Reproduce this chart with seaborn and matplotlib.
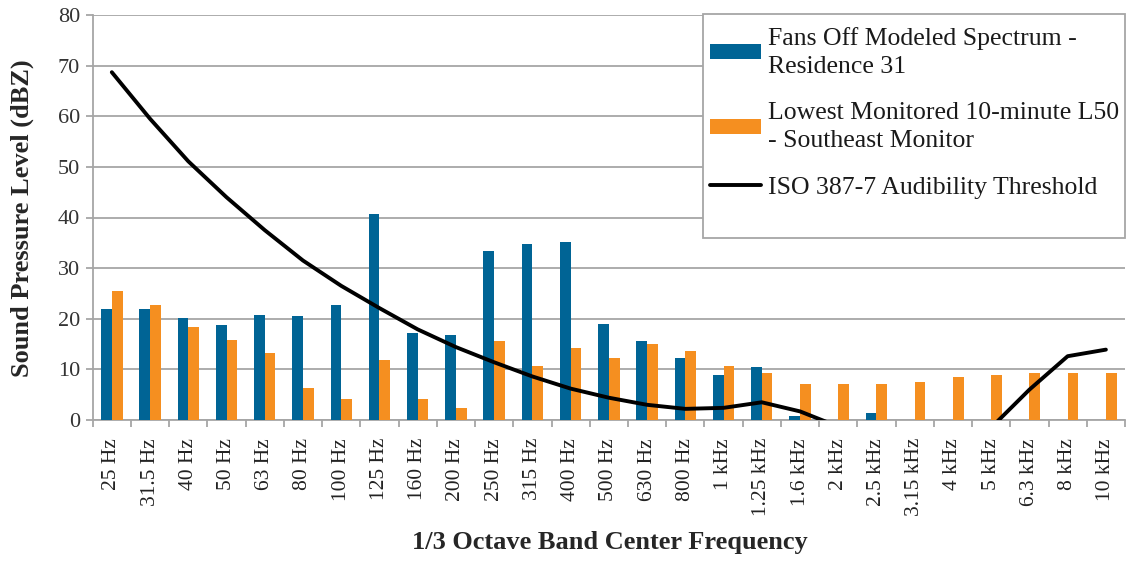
import numpy as np
import pandas as pd
import matplotlib
matplotlib.use("Agg")
import matplotlib.pyplot as plt
import seaborn as sns
from matplotlib.patches import Patch, Rectangle
from matplotlib.lines import Line2D
from matplotlib.ticker import FixedLocator, NullFormatter

nan = np.nan
freq_labels = ["25 Hz", "31.5 Hz", "40 Hz", "50 Hz", "63 Hz", "80 Hz", "100 Hz",
               "125 Hz", "160 Hz", "200 Hz", "250 Hz", "315 Hz", "400 Hz", "500 Hz",
               "630 Hz", "800 Hz", "1 kHz", "1.25 kHz", "1.6 kHz", "2 kHz", "2.5 kHz",
               "3.15 kHz", "4 kHz", "5 kHz", "6.3 kHz", "8 kHz", "10 kHz"]
fans_off = [22.0, 22.0, 20.2, 18.7, 20.7, 20.5, 22.8, 40.7, 17.2, 16.7, 33.4, 34.7,
            35.2, 19.0, 15.7, 12.2, 8.9, 10.4, 0.8, nan, 1.3, nan, nan, nan, nan, nan, nan]
lowest_l50 = [25.5, 22.8, 18.4, 15.9, 13.2, 6.3, 4.1, 11.9, 4.1, 2.3, 15.7, 10.7,
              14.2, 12.2, 15.1, 13.7, 10.7, 9.3, 7.1, 7.1, 7.1, 7.6, 8.4, 8.9, 9.3, 9.3, 9.3]
threshold = [68.7, 59.5, 51.1, 44.0, 37.5, 31.5, 26.5, 22.1, 17.9, 14.4, 11.4, 8.6,
             6.2, 4.4, 3.0, 2.2, 2.4, 3.5, 1.7, -1.3, -4.2, -5.8, -5.4, -1.5, 6.0, 12.6, 13.9]
series_names = ["Fans Off Modeled Spectrum -\nResidence 31",
                "Lowest Monitored 10-minute L50\n- Southeast Monitor",
                "ISO 387-7 Audibility Threshold"]
y_ticks = [0, 10, 20, 30, 40, 50, 60, 70, 80]

BLUE = "#006495"
ORANGE = "#F58F20"
GRID = "#A6A6A6"

sns.set_theme(style="white")
plt.rcParams["font.family"] = ["Liberation Serif", "DejaVu Serif"]

df = pd.DataFrame({
    "freq": freq_labels * 2,
    "value": fans_off + lowest_l50,
    "series": [series_names[0]] * len(freq_labels) + [series_names[1]] * len(freq_labels),
}).dropna()

W, H = 1141, 561
AX_L, AX_R, AX_T, AX_B = 92.7, 1125, 15, 420
fig = plt.figure(figsize=(W / 100, H / 100), dpi=100)
ax = fig.add_axes([AX_L / W, 1 - AX_B / H, (AX_R - AX_L) / W, (AX_B - AX_T) / H])

sns.barplot(data=df, x="freq", y="value", hue="series", order=freq_labels,
            hue_order=series_names[:2], palette=[BLUE, ORANGE], saturation=1,
            width=0.56, gap=0, errorbar=None, linewidth=0, ax=ax, legend=False,
            zorder=3)
sns.lineplot(x=np.arange(len(freq_labels)), y=threshold, color="black", lw=2.8,
             ax=ax, zorder=4)

ax.set_ylim(0, 80)
ax.set_xlim(-0.5, len(freq_labels) - 0.5)
ax.set_yticks(y_ticks)
ax.yaxis.grid(True, color=GRID, lw=1.3, zorder=0)
ax.set_axisbelow(True)
for s in ["top", "right"]:
    ax.spines[s].set_visible(False)
for s in ["left", "bottom"]:
    ax.spines[s].set_color(GRID)
    ax.spines[s].set_linewidth(1.3)

ax.tick_params(axis="y", which="major", length=5, width=1.3, color=GRID, pad=4,
               labelsize=16, labelcolor="#333333", left=True)
ax.set_xticks(np.arange(len(freq_labels)))
ax.set_xticklabels(freq_labels, rotation=90, fontsize=15.5, color="#222222")
ax.tick_params(axis="x", which="major", length=0, pad=13)
ax.xaxis.set_minor_locator(FixedLocator(np.arange(-0.5, len(freq_labels), 1.0)))
ax.xaxis.set_minor_formatter(NullFormatter())
ax.tick_params(axis="x", which="minor", length=5, width=1.3, color=GRID, bottom=True)

ax.set_xlabel("1/3 Octave Band Center Frequency", fontsize=19, fontweight="bold")
ax.set_ylabel("Sound Pressure Level (dBZ)", fontsize=19, fontweight="bold")
ax.xaxis.set_label_coords((610 - AX_L) / (AX_R - AX_L), (AX_B - 543) / (AX_B - AX_T))
ax.xaxis.label.set_va("center")
ax.yaxis.set_label_coords((22 - AX_L) / (AX_R - AX_L), (AX_B - 218) / (AX_B - AX_T))
ax.yaxis.label.set_va("center")

# legend box (frame drawn separately to match the reference's extra bottom space)
bx0 = (703 - AX_L) / (AX_R - AX_L)
by0 = (AX_B - 238) / (AX_B - AX_T)
frame = Rectangle((bx0, by0), 1.0 - bx0, 1.0 - by0 + 0.0025, transform=ax.transAxes,
                  facecolor="white", edgecolor=GRID, lw=1.3, zorder=9, clip_on=False)
ax.add_patch(frame)

handles = [Patch(facecolor=BLUE, edgecolor="none"),
           Patch(facecolor=ORANGE, edgecolor="none"),
           Line2D([0], [0], color="black", lw=2.8)]
lx0 = (698 - AX_L) / (AX_R - AX_L)
leg = ax.legend(handles, series_names, loc="upper left",
                bbox_to_anchor=(lx0, 1.0), borderaxespad=0, fontsize=18.5,
                frameon=False, handlelength=2.0, handleheight=0.55,
                handletextpad=0.25, labelspacing=0.95, borderpad=0.46)
for t in leg.get_texts():
    t.set_linespacing(1.35)
    t.set_color("#1a1a1a")
leg.set_zorder(10)

fig.savefig("out.png", dpi=100)
